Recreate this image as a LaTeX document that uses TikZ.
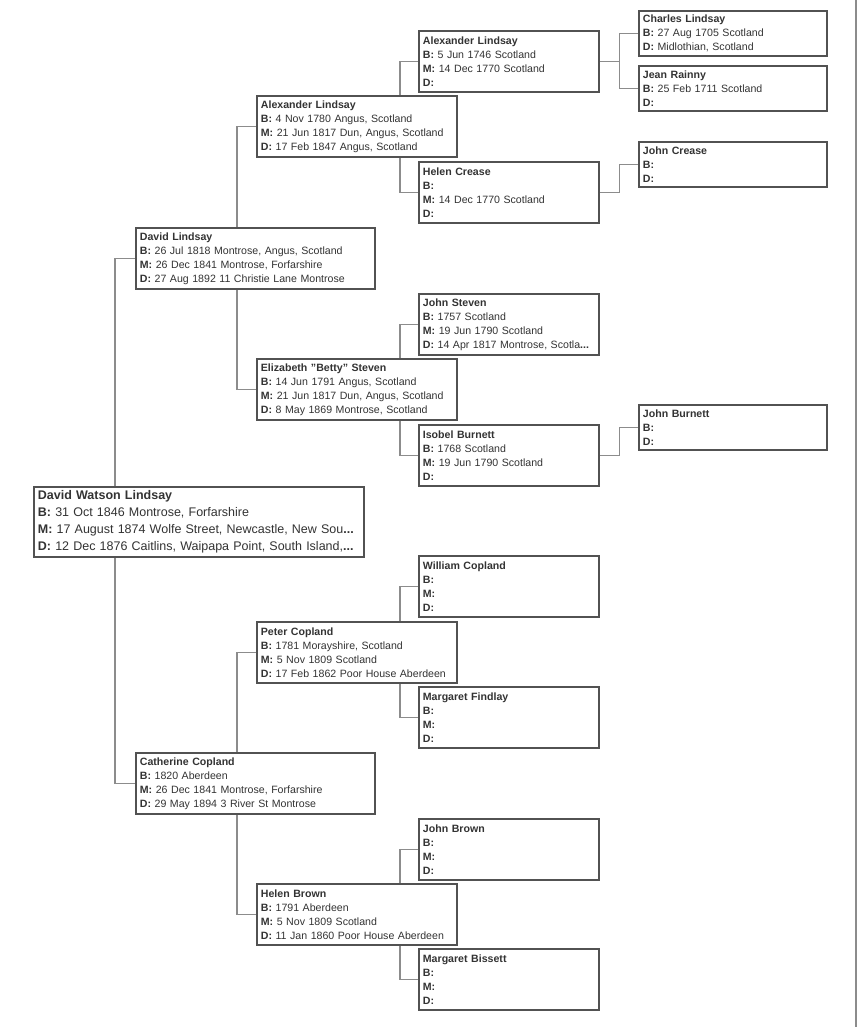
\documentclass[tikz,border=0pt]{standalone}
\usepackage{fontspec}
\setmainfont{Liberation Sans}
\begin{document}
\begin{tikzpicture}[x=1pt,y=-1pt,
  pbox/.style={draw=black!68, line width=1.8pt, fill=white, anchor=north west, align=left,
    text=black!80, inner xsep=4pt, inner ysep=0pt, font=\fontsize{10.6}{14}\selectfont},
  genfour/.style={pbox, text width=180pt, minimum height=45pt},
  genthree/.style={pbox, text width=172pt, minimum height=61pt},
  gentwo/.style={pbox, text width=192pt, minimum height=61pt},
  genone/.style={pbox, text width=231pt, minimum height=61pt},
  link/.style={draw=black!45, line width=1.1pt}]
\useasboundingbox (0,0) rectangle (857,1027);
\draw[link] (856,0) -- (856,1027);
% father's side
\node [genfour] (charles) at (638,10) {\textbf{Charles Lindsay}\\\textbf{B:} 27 Aug 1705 Scotland\\\textbf{D:} Midlothian, Scotland};
\node [genfour] (jean) at (638,65) {\textbf{Jean Rainny}\\\textbf{B:} 25 Feb 1711 Scotland\\\textbf{D:}};
\node [genthree] (alexthree) at (418,30) {\textbf{Alexander Lindsay}\\\textbf{B:} 5 Jun 1746 Scotland\\\textbf{M:} 14 Dec 1770 Scotland\\\textbf{D:}};
\node [gentwo] (alextwo) at (256,95) {\textbf{Alexander Lindsay}\\\textbf{B:} 4 Nov 1780 Angus, Scotland\\\textbf{M:} 21 Jun 1817 Dun, Angus, Scotland\\\textbf{D:} 17 Feb 1847 Angus, Scotland};
\node [genfour] (johncrease) at (638,141) {\textbf{John Crease}\\\textbf{B:}\\\textbf{D:}};
\node [genthree] (helencrease) at (418,161) {\textbf{Helen Crease}\\\textbf{B:}\\\textbf{M:} 14 Dec 1770 Scotland\\\textbf{D:}};
\node [genone] (davidl) at (135,227) {\textbf{David Lindsay}\\\textbf{B:} 26 Jul 1818 Montrose, Angus, Scotland\\\textbf{M:} 26 Dec 1841 Montrose, Forfarshire\\\textbf{D:} 27 Aug 1892 11 Christie Lane Montrose};
\node [genthree] (johnsteven) at (418,293) {\textbf{John Steven}\\\textbf{B:} 1757 Scotland\\\textbf{M:} 19 Jun 1790 Scotland\\\textbf{D:} 14 Apr 1817 Montrose, Scotla\textbf{...}};
\node [gentwo] (betty) at (256,358) {\textbf{Elizabeth "Betty" Steven}\\\textbf{B:} 14 Jun 1791 Angus, Scotland\\\textbf{M:} 21 Jun 1817 Dun, Angus, Scotland\\\textbf{D:} 8 May 1869 Montrose, Scotland};
\node [genfour] (johnburnett) at (638,404) {\textbf{John Burnett}\\\textbf{B:}\\\textbf{D:}};
\node [genthree] (isobel) at (418,424) {\textbf{Isobel Burnett}\\\textbf{B:} 1768 Scotland\\\textbf{M:} 19 Jun 1790 Scotland\\\textbf{D:}};
% root
\node [pbox, text width=322pt, minimum height=70pt, font=\fontsize{12.5}{16.8}\selectfont] (dwl) at (33,486) {\textbf{David Watson Lindsay}\\\textbf{B:} 31 Oct 1846 Montrose, Forfarshire\\\textbf{M:} 17 August 1874 Wolfe Street, Newcastle, New Sou\textbf{...}\\\textbf{D:} 12 Dec 1876 Caitlins, Waipapa Point, South Island,\textbf{...}};
% mother's side
\node [genthree] (william) at (418,555) {\textbf{William Copland}\\\textbf{B:}\\\textbf{M:}\\\textbf{D:}};
\node [gentwo] (peter) at (256,621) {\textbf{Peter Copland}\\\textbf{B:} 1781 Morayshire, Scotland\\\textbf{M:} 5 Nov 1809 Scotland\\\textbf{D:} 17 Feb 1862 Poor House Aberdeen};
\node [genthree] (findlay) at (418,686) {\textbf{Margaret Findlay}\\\textbf{B:}\\\textbf{M:}\\\textbf{D:}};
\node [genone] (catherine) at (135,752) {\textbf{Catherine Copland}\\\textbf{B:} 1820 Aberdeen\\\textbf{M:} 26 Dec 1841 Montrose, Forfarshire\\\textbf{D:} 29 May 1894 3 River St Montrose};
\node [genthree] (johnbrown) at (418,818) {\textbf{John Brown}\\\textbf{B:}\\\textbf{M:}\\\textbf{D:}};
\node [gentwo] (helenbrown) at (256,883) {\textbf{Helen Brown}\\\textbf{B:} 1791 Aberdeen\\\textbf{M:} 5 Nov 1809 Scotland\\\textbf{D:} 11 Jan 1860 Poor House Aberdeen};
\node [genthree] (bissett) at (418,948) {\textbf{Margaret Bissett}\\\textbf{B:}\\\textbf{M:}\\\textbf{D:}};
% links
\draw [link] ([xshift=82pt]dwl.north west) |- (davidl.west);
\draw [link] ([xshift=82pt]dwl.south west) |- (catherine.west);
\draw [link] ([xshift=102pt]davidl.north west) |- (alextwo.west);
\draw [link] ([xshift=102pt]davidl.south west) |- (betty.west);
\draw [link] ([xshift=102pt]catherine.north west) |- (peter.west);
\draw [link] ([xshift=102pt]catherine.south west) |- (helenbrown.west);
\draw [link] ([xshift=144pt]alextwo.north west) |- (alexthree.west);
\draw [link] ([xshift=144pt]alextwo.south west) |- (helencrease.west);
\draw [link] ([xshift=144pt]betty.north west) |- (johnsteven.west);
\draw [link] ([xshift=144pt]betty.south west) |- (isobel.west);
\draw [link] ([xshift=144pt]peter.north west) |- (william.west);
\draw [link] ([xshift=144pt]peter.south west) |- (findlay.west);
\draw [link] ([xshift=144pt]helenbrown.north west) |- (johnbrown.west);
\draw [link] ([xshift=144pt]helenbrown.south west) |- (bissett.west);
\draw [link] (alexthree.east) -- ++(20,0) coordinate (alexjoin) |- (charles.west);
\draw [link] (alexjoin) |- (jean.west);
\draw [link] (helencrease.east) -- ++(20,0) |- (johncrease.west);
\draw [link] (isobel.east) -- ++(20,0) |- (johnburnett.west);
\end{tikzpicture}
\end{document}
